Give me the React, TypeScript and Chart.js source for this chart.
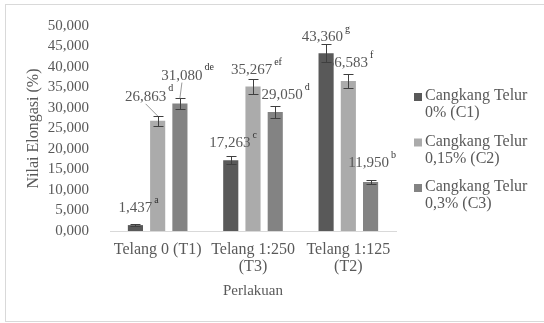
import React, { useEffect, useRef } from 'react';
import { Chart, registerables } from 'chart.js';

Chart.register(...registerables);

// ---- data ----
const categories: string[][] = [['Telang 0 (T1)'], ['Telang 1:250', '(T3)'], ['Telang 1:125', '(T2)']];
const seriesNames: string[][] = [
  ['Cangkang Telur', '0% (C1)'],
  ['Cangkang Telur', '0,15% (C2)'],
  ['Cangkang Telur', '0,3% (C3)'],
];
const c1Values = [1.437, 17.263, 43.36];
const c2Values = [26.863, 35.267, 36.583];
const c3Values = [31.08, 29.05, 11.95];
const c1Errors = [0.2, 1.0, 2.2];
const c2Errors = [1.2, 1.8, 1.8];
const c3Errors = [1.3, 1.4, 0.6];
const c1Letters = ['a', 'c', 'g'];
const c2Letters = ['d', 'ef', 'f'];
const c3Letters = ['de', 'd', 'b'];
const yTickValues = [0, 5, 10, 15, 20, 25, 30, 35, 40, 45, 50];
const xTitle = 'Perlakuan';
const yTitle = 'Nilai Elongasi (%)';

// ---- label placement (annotation offsets, px) ----
const c1LabelOffsets = [[0, -17], [-1, -17], [-3.6, -16]];
const c2LabelOffsets = [[-12, -24], [-1.5, -16], [-1, -18]];
const c3LabelOffsets = [[2, -28], [7, -17], [-2, -19]];
const c1Leaders = [false, false, false];
const c2Leaders = [true, false, false];
const c3Leaders = [true, false, false];
const c1Behind = [false, false, false];
const c2Behind = [false, false, true];
const c3Behind = [false, false, false];

const colors = ['#595959', '#ababab', '#838383'];
const FONT = "'Liberation Serif', 'Times New Roman', serif";
const TEXT = '#595959';

const fmt = (v: number) => v.toFixed(3).replace('.', ',');

const errorsAll = [c1Errors, c2Errors, c3Errors];
const lettersAll = [c1Letters, c2Letters, c3Letters];
const offsetsAll = [c1LabelOffsets, c2LabelOffsets, c3LabelOffsets];
const leadersAll = [c1Leaders, c2Leaders, c3Leaders];
const behindAll = [c1Behind, c2Behind, c3Behind];

function drawLabels(chart: any, behind: boolean) {
  const ctx = chart.ctx;
  const y = chart.scales.y;
  ctx.save();
  chart.data.datasets.forEach((ds: any, di: number) => {
    const meta = chart.getDatasetMeta(di);
    meta.data.forEach((bar: any, i: number) => {
      if (behindAll[di][i] !== behind) return;
      const v = ds.data[i];
      const vy = y.getPixelForValue(v);
      const [dx, dy] = offsetsAll[di][i];
      const lx = bar.x + dx;
      const ly = vy + dy;
      const txt = fmt(v);
      ctx.font = `15px ${FONT}`;
      ctx.fillStyle = TEXT;
      ctx.textAlign = 'center';
      ctx.textBaseline = 'middle';
      ctx.fillText(txt, lx, ly);
      const w = ctx.measureText(txt).width;
      ctx.font = `10px ${FONT}`;
      ctx.fillStyle = '#333333';
      ctx.textAlign = 'left';
      ctx.fillText(lettersAll[di][i], lx + w / 2 + 2, ly - 8);
      if (leadersAll[di][i]) {
        const top = y.getPixelForValue(v + errorsAll[di][i]);
        ctx.strokeStyle = '#9a9a9a';
        ctx.lineWidth = 1;
        ctx.beginPath();
        ctx.moveTo(lx, ly + 7);
        ctx.lineTo(bar.x, top);
        ctx.stroke();
      }
    });
  });
  ctx.restore();
}

const customPlugin = {
  id: 'custom',
  beforeDraw(chart: any) {
    const ctx = chart.ctx;
    ctx.save();
    ctx.fillStyle = '#ffffff';
    ctx.fillRect(0, 0, chart.width, chart.height);
    ctx.strokeStyle = '#d9d9d9';
    ctx.lineWidth = 1;
    ctx.strokeRect(5.5, 4.5, chart.width + 20, 317);
    ctx.restore();
  },
  beforeDatasetsDraw(chart: any) {
    drawLabels(chart, true);
  },
  afterDatasetsDraw(chart: any) {
    const ctx = chart.ctx;
    const y = chart.scales.y;
    ctx.save();
    ctx.strokeStyle = '#3f3f3f';
    ctx.lineWidth = 1;
    chart.data.datasets.forEach((ds: any, di: number) => {
      const meta = chart.getDatasetMeta(di);
      meta.data.forEach((bar: any, i: number) => {
        const v = ds.data[i];
        const e = errorsAll[di][i];
        const x = Math.round(bar.x) + 0.5;
        const t = Math.round(y.getPixelForValue(v + e)) + 0.5;
        const b = Math.round(y.getPixelForValue(v - e)) + 0.5;
        ctx.beginPath();
        ctx.moveTo(x, t);
        ctx.lineTo(x, b);
        ctx.moveTo(x - 5, t);
        ctx.lineTo(x + 5, t);
        ctx.moveTo(x - 5, b);
        ctx.lineTo(x + 5, b);
        ctx.stroke();
      });
    });
    ctx.restore();
    drawLabels(chart, false);
  },
  afterDraw(chart: any) {
    const ctx = chart.ctx;
    const area = chart.chartArea;
    ctx.save();
    chart.data.datasets.forEach((ds: any, di: number) => {
      const cy = area.top + 70 + di * 45.5;
      ctx.fillStyle = ds.backgroundColor;
      ctx.fillRect(area.right + 18, cy - 3, 8, 8);
      ctx.font = `16px ${FONT}`;
      ctx.fillStyle = TEXT;
      ctx.textAlign = 'left';
      ctx.textBaseline = 'middle';
      (ds.label as string[]).forEach((line: string, li: number) => {
        ctx.fillText(line, area.right + 29, cy + li * 17);
      });
    });
    ctx.restore();
  },
};

export default function App() {
  const ref = useRef<HTMLCanvasElement | null>(null);
  useEffect(() => {
    document.body.style.margin = '0';
    const canvas = ref.current!;
    const chart = new Chart(canvas, {
      type: 'bar',
      data: {
        labels: categories as any,
        datasets: [c1Values, c2Values, c3Values].map((vals, i) => ({
          label: seriesNames[i] as any,
          data: vals,
          backgroundColor: colors[i],
          borderWidth: 0,
          categoryPercentage: 0.7,
          barPercentage: 0.68,
        })),
      },
      options: {
        animation: false,
        responsive: false,
        devicePixelRatio: 1,
        layout: { padding: { left: 0, right: 148, top: 26, bottom: 0 } },
        plugins: {
          legend: { display: false },
          tooltip: { enabled: false },
        },
        scales: {
          x: {
            grid: { display: false },
            border: { display: true, color: '#d9d9d9', width: 1 },
            ticks: {
              color: TEXT,
              font: { family: FONT, size: 16, lineHeight: 1.07 },
              padding: 2,
              maxRotation: 0,
              autoSkip: false,
            },
            title: {
              display: true,
              text: xTitle,
              color: TEXT,
              font: { family: FONT, size: 15, lineHeight: 1.2 },
              padding: { top: 0, bottom: 23 },
            },
            afterFit(scale: any) {
              scale.height = 92;
            },
          },
          y: {
            min: 0,
            max: 50,
            grid: { display: false },
            border: { display: false },
            afterBuildTicks(scale: any) {
              scale.ticks = yTickValues.map((v) => ({ value: v }));
            },
            ticks: {
              color: TEXT,
              font: { family: FONT, size: 15 },
              padding: 13,
              autoSkip: false,
              callback: (v: any) => fmt(Number(v)),
            },
            title: {
              display: true,
              text: yTitle,
              color: TEXT,
              font: { family: FONT, size: 16, lineHeight: 1.2 },
              padding: { top: 24, bottom: 0 },
            },
            afterFit(scale: any) {
              scale.width = 110;
            },
          },
        },
      },
      plugins: [customPlugin],
    });
    return () => chart.destroy();
  }, []);
  return <canvas ref={ref} width={544} height={323} style={{ display: 'block' }} />;
}
